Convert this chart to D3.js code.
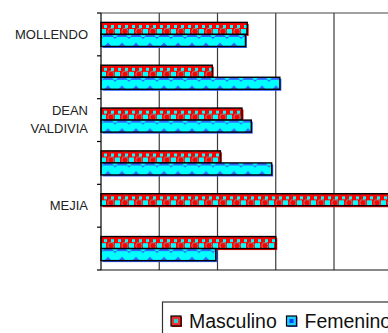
<!DOCTYPE html>
<html>
<head>
<meta charset="utf-8">
<script src="https://cdn.jsdelivr.net/npm/d3@7"></script>
<style>
  html, body { margin: 0; padding: 0; background: #fff; }
  svg { display: block; font-family: "Liberation Sans", Arial, sans-serif; }
</style>
</head>
<body>
<svg id="chart" width="388" height="333"></svg>
<script>
// Province groups, listed top to bottom (blank names are unlabelled groups)
const categories = ["MOLLENDO", "", "DEAN VALDIVIA", "", "MEJIA", ""];
const series = ["Masculino", "Femenino"];
const masculino = [25.1, 19.1, 24.2, 20.5, 50, 30.0];
const femenino  = [24.8, 30.7, 25.8, 29.3, 0, 19.7];
const gridTicks = [0, 10, 20, 30, 40, 50];

const svg = d3.select("#chart");
const margin = { top: 13, left: 101, bottom: 270, right: 392.25 };

const x = d3.scaleLinear().domain([0, 50]).range([margin.left, margin.right]);
const y = d3.scaleBand().domain(categories.map((c, i) => i)).range([margin.top, margin.bottom]);
const ySub = d3.scaleBand().domain(series).range([0, y.bandwidth()]).paddingOuter(0.78);

// Fill patterns for the two series
const defs = svg.append("defs");
const pm = defs.append("pattern").attr("id", "patM").attr("patternUnits", "userSpaceOnUse")
  .attr("width", 14).attr("height", 12).attr("x", margin.left);
pm.append("rect").attr("width", 14).attr("height", 12).attr("fill", "#ff0000");
pm.append("rect").attr("x", 3).attr("y", 0).attr("width", 3).attr("height", 3).attr("fill", "#00ffff");
pm.append("rect").attr("x", 10).attr("y", 0).attr("width", 3).attr("height", 3).attr("fill", "#00ffff");
pm.append("rect").attr("x", 0).attr("y", 4).attr("width", 5).attr("height", 5).attr("fill", "#00ffff");
pm.append("circle").attr("cx", 10).attr("cy", 6.5).attr("r", 3.2).attr("fill", "#ff0000")
  .attr("stroke", "#8a8a8a").attr("stroke-width", 1);

const pf = defs.append("pattern").attr("id", "patF").attr("patternUnits", "userSpaceOnUse")
  .attr("width", 14).attr("height", 12).attr("x", margin.left);
pf.append("rect").attr("width", 14).attr("height", 12).attr("fill", "#00ffff");
pf.append("polygon").attr("points", "1,12 7,5.5 13,12").attr("fill", "#3366ff");
pf.append("polygon").attr("points", "-2,0 0,2 2,0").attr("fill", "#3366ff");
pf.append("polygon").attr("points", "12,0 14,2 16,0").attr("fill", "#3366ff");

// Vertical gridlines
svg.append("g").selectAll("line").data(gridTicks.slice(1)).join("line")
  .attr("x1", d => x(d)).attr("x2", d => x(d))
  .attr("y1", margin.top).attr("y2", margin.bottom)
  .attr("stroke", "#3a3a3a").attr("stroke-width", 1.2);

// Plot frame: top edge and bottom edge
svg.append("line").attr("x1", margin.left).attr("x2", 388).attr("y1", margin.top).attr("y2", margin.top)
  .attr("stroke", "#444").attr("stroke-width", 1.2);
svg.append("line").attr("x1", margin.left).attr("x2", 388).attr("y1", margin.bottom).attr("y2", margin.bottom)
  .attr("stroke", "#111").attr("stroke-width", 1);

// Bars
const rows = categories.map((c, i) => ({ i, values: [
  { key: "Masculino", v: masculino[i] },
  { key: "Femenino", v: femenino[i] }
]}));
const shadow = { Masculino: "#ff0000", Femenino: "#2f5bff" };
const fillId = { Masculino: "url(#patM)", Femenino: "url(#patF)" };

const groups = svg.append("g").selectAll("g").data(rows).join("g")
  .attr("transform", d => `translate(0,${y(d.i)})`);
groups.each(function (row) {
  const g = d3.select(this);
  const vals = row.values.filter(d => d.v > 0);
  g.selectAll("rect.sh").data(vals).join("rect").attr("class", "sh")
    .attr("x", x(0) + 1.5).attr("y", d => ySub(d.key) + 1.5)
    .attr("width", d => x(d.v) - x(0)).attr("height", ySub.bandwidth())
    .attr("fill", d => shadow[d.key]);
  g.selectAll("rect.bar").data(vals).join("rect").attr("class", "bar")
    .attr("x", x(0)).attr("y", d => ySub(d.key))
    .attr("width", d => x(d.v) - x(0)).attr("height", ySub.bandwidth())
    .attr("fill", d => fillId[d.key])
    .attr("stroke", "#000").attr("stroke-width", 1.4);
});

// Category axis
const axis = svg.append("g");
axis.append("line").attr("x1", margin.left).attr("x2", margin.left)
  .attr("y1", margin.top).attr("y2", margin.bottom).attr("stroke", "#000").attr("stroke-width", 1.2);
const bounds = categories.map((c, i) => y(i)).concat([margin.bottom]);
axis.selectAll("line.tick").data(bounds).join("line").attr("class", "tick")
  .attr("x1", margin.left - 4).attr("x2", margin.left)
  .attr("y1", d => d).attr("y2", d => d).attr("stroke", "#000").attr("stroke-width", 1.2);

const labels = axis.selectAll("text").data(categories.map((c, i) => ({ c, i }))).join("text")
  .attr("text-anchor", "end").attr("font-size", 13).attr("fill", "#222")
  .attr("transform", d => `translate(88,${y(d.i) + y.bandwidth() / 2})`);
labels.each(function (d) {
  const words = d.c ? d.c.split(" ") : [];
  const lh = 18;
  const t = d3.select(this);
  words.forEach((w, k) => {
    t.append("tspan").attr("x", 0)
      .attr("y", (k - (words.length - 1) / 2) * lh + 4.2)
      .text(w);
  });
});

// Legend
const legend = svg.append("g").attr("transform", "translate(162.5,302)");
legend.append("rect").attr("width", 240).attr("height", 50)
  .attr("fill", "#fff").attr("stroke", "#333").attr("stroke-width", 1.2);
const legX = [8.5, 124];
const item = legend.selectAll("g.item").data(series).join("g").attr("class", "item")
  .attr("transform", (d, i) => `translate(${legX[i]},14)`);
item.append("rect").attr("x", 1).attr("y", 1).attr("width", 10).attr("height", 10)
  .attr("fill", d => shadow[d]);
item.append("rect").attr("width", 10).attr("height", 10)
  .attr("fill", d => d === "Masculino" ? "#e83030" : "#22ccff")
  .attr("stroke", "#000").attr("stroke-width", 1.2);
item.append("rect").attr("x", 3).attr("y", 3).attr("width", 4).attr("height", 4)
  .attr("fill", d => d === "Masculino" ? "#33cccc" : "#0044ff");
item.append("text").attr("x", 18).attr("y", 11.7).attr("font-size", 19.5).attr("fill", "#111")
  .text(d => d);
</script>
</body>
</html>
